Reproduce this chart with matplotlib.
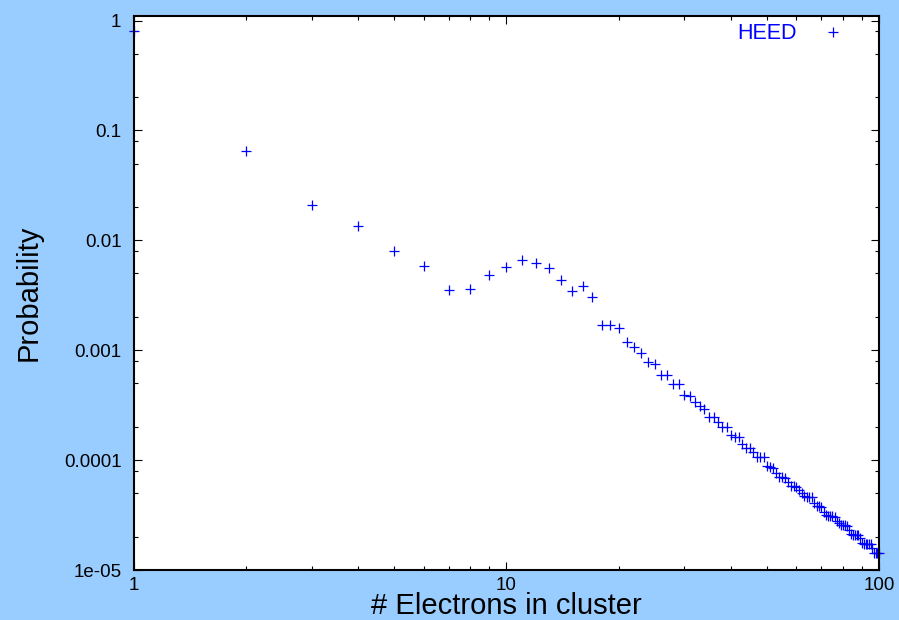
import numpy as np
import matplotlib
matplotlib.use('Agg')
import matplotlib.pyplot as plt
from matplotlib import rcParams
from matplotlib.ticker import LogLocator, FixedLocator, FixedFormatter, NullFormatter

rcParams['font.family'] = ['Liberation Sans', 'DejaVu Sans']

# cluster size distribution
n_electrons = np.arange(1, 101)
probability = [
    0.81, 0.0644, 0.0210, 0.0136, 0.0080, 0.0059, 0.00350, 0.00363, 0.00487, 0.00578,
    0.00665, 0.00628, 0.00557, 0.00440, 0.00348, 0.00383, 0.00307, 0.00171, 0.00171, 0.00160,
    0.00118, 0.00107, 9.4e-4, 7.8e-4, 7.5e-4, 6.0e-4, 6.0e-4, 4.9e-4, 4.9e-4, 3.95e-4,
    3.85e-4, 3.37e-4, 3.08e-4, 2.93e-4, 2.48e-4, 2.48e-4, 2.22e-4, 2.0e-4, 2.0e-4, 1.68e-4,
    1.61e-4, 1.61e-4, 1.39e-4, 1.30e-4, 1.29e-4, 1.19e-4, 1.07e-4, 1.07e-4, 1.06e-4, 8.8e-5,
    8.6e-5, 8.5e-5, 7.6e-5, 7.0e-5, 7.0e-5, 6.9e-5, 6.3e-5, 5.8e-5, 5.8e-5, 5.7e-5,
    5.4e-5, 5.0e-5, 4.7e-5, 4.6e-5, 4.6e-5, 4.6e-5, 4.1e-5, 3.8e-5, 3.8e-5, 3.75e-5,
    3.4e-5, 3.2e-5, 3.1e-5, 3.1e-5, 3.1e-5, 3.05e-5, 2.8e-5, 2.7e-5, 2.55e-5, 2.55e-5,
    2.55e-5, 2.5e-5, 2.3e-5, 2.12e-5, 2.1e-5, 2.1e-5, 2.1e-5, 2.08e-5, 1.95e-5, 1.75e-5,
    1.74e-5, 1.73e-5, 1.73e-5, 1.72e-5, 1.72e-5, 1.6e-5, 1.44e-5, 1.43e-5, 1.43e-5, 1.42e-5,
]

x_ticks = [1, 10, 100]
x_tick_labels = ['1', '10', '100']
y_ticks = [1e-5, 1e-4, 1e-3, 1e-2, 1e-1, 1]
y_tick_labels = ['1e-05', '0.0001', '0.001', '0.01', '0.1', '1']

fig = plt.figure(figsize=(8.99, 6.2), dpi=100, facecolor='#99ccff')
ax = fig.add_axes([0.149, 0.0806, 0.8288, 0.8942])
ax.set_facecolor('white')

ax.plot(n_electrons, probability, linestyle='none', marker='+', markersize=7,
        markeredgewidth=0.9, color='#0000ff', label='HEED', clip_on=False)

ax.set_xscale('log')
ax.set_yscale('log')
ax.set_xlim(1, 100)
ax.set_ylim(1e-5, 1.11)

ax.xaxis.set_major_locator(FixedLocator(x_ticks))
ax.xaxis.set_major_formatter(FixedFormatter(x_tick_labels))
ax.xaxis.set_minor_locator(LogLocator(base=10, subs=range(2, 10)))
ax.xaxis.set_minor_formatter(NullFormatter())
ax.yaxis.set_major_locator(FixedLocator(y_ticks))
ax.yaxis.set_major_formatter(FixedFormatter(y_tick_labels))
ax.yaxis.set_minor_locator(LogLocator(base=10, subs=(2, 5, 8)))
ax.yaxis.set_minor_formatter(NullFormatter())

ax.tick_params(which='both', direction='in', top=True, right=True, width=0.8, colors='black')
ax.tick_params(which='major', length=6)
ax.tick_params(which='minor', length=3)
ax.tick_params(axis='y', which='major', labelsize=13.5, pad=9)
ax.tick_params(axis='x', which='major', labelsize=13.5, pad=5)

for s in ax.spines.values():
    s.set_linewidth(1.5)

ax.set_xlabel('# Electrons in cluster', fontsize=21)
ax.set_ylabel('Probability', fontsize=21)
ax.xaxis.set_label_coords(0.5, -0.040)
ax.yaxis.set_label_coords(-0.122, 0.5)

ax.legend(loc='upper right', bbox_to_anchor=(0.967, 0.986), frameon=False, markerfirst=False,
          fontsize=15.5, labelcolor='#0000ff', handlelength=2, handletextpad=0.67,
          borderpad=0, borderaxespad=0)

fig.savefig('out.png', dpi=100, facecolor=fig.get_facecolor())
